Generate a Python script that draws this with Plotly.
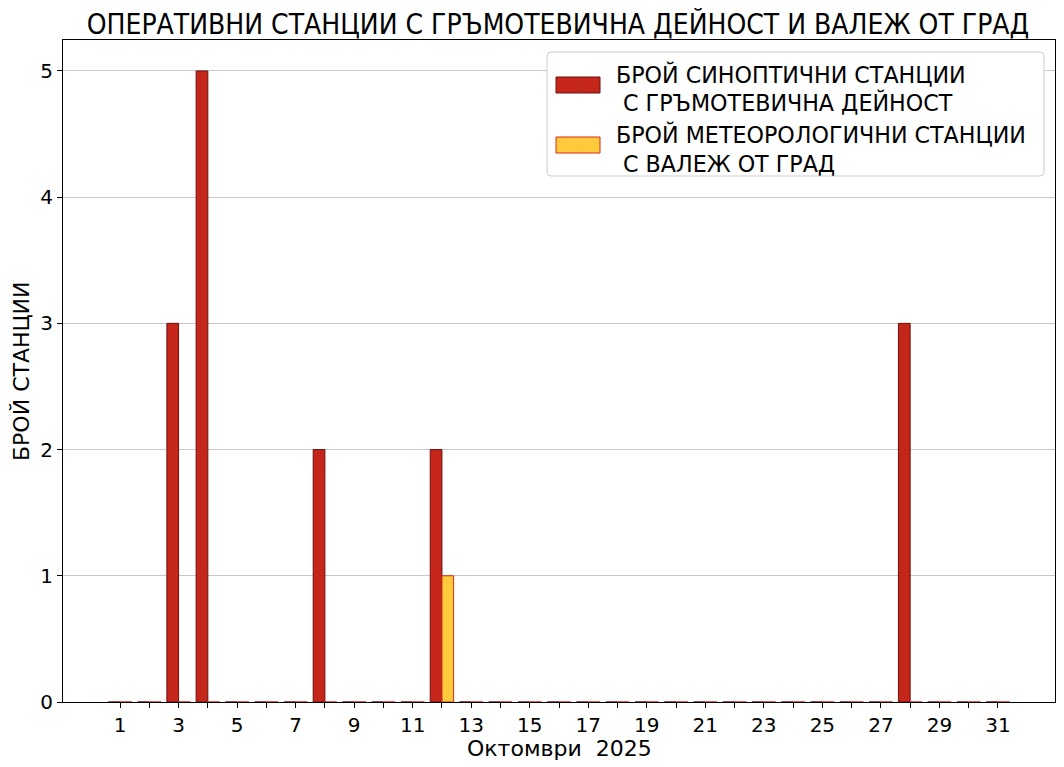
import plotly.graph_objects as go

days = list(range(1, 32))
thunder = [0, 0, 3, 5, 0, 0, 0, 2, 0, 0, 0, 2, 0, 0, 0, 0, 0, 0, 0, 0, 0, 0, 0, 0, 0, 0, 0, 3, 0, 0, 0]
hail = [0, 0, 0, 0, 0, 0, 0, 0, 0, 0, 0, 1, 0, 0, 0, 0, 0, 0, 0, 0, 0, 0, 0, 0, 0, 0, 0, 0, 0, 0, 0]

title = "ОПЕРАТИВНИ СТАНЦИИ С ГРЪМОТЕВИЧНА ДЕЙНОСТ И ВАЛЕЖ ОТ ГРАД"
name_thunder = "БРОЙ СИНОПТИЧНИ СТАНЦИИ<br> С ГРЪМОТЕВИЧНА ДЕЙНОСТ"
name_hail = "БРОЙ МЕТЕОРОЛОГИЧНИ СТАНЦИИ<br> С ВАЛЕЖ ОТ ГРАД"
x_title = "Октомври  2025"
y_title = "БРОЙ СТАНЦИИ"
tick_text = [str(d) if d % 2 == 1 else "" for d in days]

RED, RED_EDGE = "#C4261A", "#6E1010"
YEL, YEL_EDGE = "#FFCA3C", "#D8281A"

FONT = "DejaVu Sans"
OFF = 8  # page body margin
W, H = 1064 - OFF, 767 - OFF
L, R, T, B = 63 - OFF, 9, 40 - OFF, 65
PW, PH = W - L - R, H - T - B


def px(x):
    return (x - 63) / PW


def py(y):
    return 1 - (y - 40) / PH


fig = go.Figure()
fig.add_trace(go.Bar(
    x=days, y=thunder, name=name_thunder, width=0.4, offset=-0.4, showlegend=False,
    marker=dict(color=RED, line=dict(color=RED_EDGE, width=1)),
))
fig.add_trace(go.Bar(
    x=days, y=hail, name=name_hail, width=0.4, offset=0.0, showlegend=False,
    marker=dict(color=YEL, line=dict(color=YEL_EDGE, width=1)),
))
# legend entries (symbols drawn as shapes below)
for nm in (name_thunder, name_hail):
    fig.add_trace(go.Scatter(x=[None], y=[None], mode="markers", name=nm,
                             marker=dict(opacity=0, size=1), hoverinfo="skip"))

# rounded legend frame
x0, x1, y0, y1, r = 547, 1044, 52, 176, 4
path = (f"M {px(x0 + r)},{py(y0)} L {px(x1 - r)},{py(y0)} "
        f"Q {px(x1)},{py(y0)} {px(x1)},{py(y0 + r)} L {px(x1)},{py(y1 - r)} "
        f"Q {px(x1)},{py(y1)} {px(x1 - r)},{py(y1)} L {px(x0 + r)},{py(y1)} "
        f"Q {px(x0)},{py(y1)} {px(x0)},{py(y1 - r)} L {px(x0)},{py(y0 + r)} "
        f"Q {px(x0)},{py(y0)} {px(x0 + r)},{py(y0)} Z")
shapes = [
    dict(type="path", xref="paper", yref="paper", path=path, fillcolor="white",
         line=dict(color="#CCCCCC", width=1), layer="above"),
    dict(type="rect", xref="paper", yref="paper", x0=px(556), x1=px(600), y0=py(77), y1=py(93),
         fillcolor=RED, line=dict(color=RED_EDGE, width=1), layer="above"),
    dict(type="rect", xref="paper", yref="paper", x0=px(556), x1=px(600), y0=py(137), y1=py(153),
         fillcolor=YEL, line=dict(color=YEL_EDGE, width=1), layer="above"),
]

fig.update_layout(
    width=W, height=H,
    margin=dict(l=L, r=R, t=T, b=B, autoexpand=False),
    paper_bgcolor="white", plot_bgcolor="white",
    barmode="overlay",
    font=dict(family=FONT, size=20, color="black"),
    title=dict(text=title, x=(558 - OFF) / W, xanchor="center", y=1 - (24 - OFF) / H,
               yanchor="middle",
               font=dict(family="DejaVu Sans Condensed", size=28, color="black")),
    legend=dict(x=px(547), xanchor="left", y=py(53), yanchor="top",
                bgcolor="rgba(0,0,0,0)", borderwidth=0,
                font=dict(family=FONT, size=22.2), tracegroupgap=0,
                itemwidth=59),
    showlegend=True,
    shapes=shapes,
    annotations=[
        dict(text=x_title, xref="paper", yref="paper", x=0.5, y=py(748),
             xanchor="center", yanchor="middle", showarrow=False, borderpad=0,
             font=dict(size=22)),
        dict(text=y_title, xref="paper", yref="paper", x=px(21), y=0.5,
             xanchor="center", yanchor="middle", showarrow=False, textangle=-90,
             font=dict(size=22)),
    ],
)
fig.update_xaxes(
    range=[-0.95, 32.95], tickmode="array", tickvals=days, ticktext=tick_text,
    ticks="outside", ticklen=5, tickcolor="black", showgrid=False,
    showline=True, linecolor="black", linewidth=1, mirror=True,
    automargin=False, tickfont=dict(size=20),
)
fig.update_yaxes(
    range=[0, 5.245], tickvals=[0, 1, 2, 3, 4, 5],
    ticks="outside", ticklen=5, tickcolor="black",
    showgrid=True, gridcolor="#C8C8C8", gridwidth=1,
    showline=True, linecolor="black", linewidth=1, mirror=True, zeroline=False,
    automargin=False, tickfont=dict(size=20),
)

fig.write_html("out.html")
